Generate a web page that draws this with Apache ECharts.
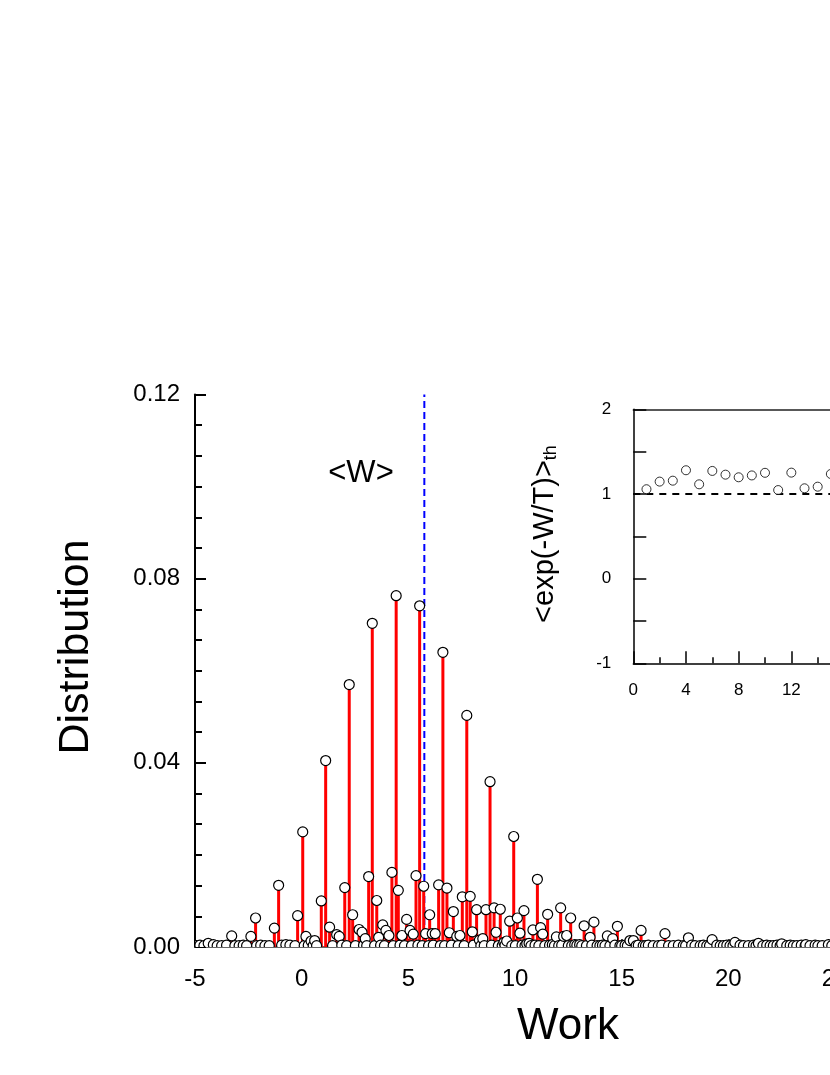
<!DOCTYPE html>
<html>
<head>
<meta charset="utf-8">
<script src="https://cdn.jsdelivr.net/npm/echarts@6/dist/echarts.min.js"></script>
<style>
  html, body { margin: 0; padding: 0; background: #fff; }
  #chart { width: 830px; height: 1075px; }
</style>
</head>
<body>
<div id="chart"></div>
<script>
// work values (x) and distribution (y) of the points with visible stems
const workValues = [
  -4.38, -3.28, -2.38, -2.16, -1.28, -1.08, -0.19, 0.05, 0.20, 0.44, 0.61, 0.92,
  1.125, 1.31, 1.64, 1.76, 2.02, 2.23, 2.39, 2.69, 2.83, 2.98, 3.14, 3.31,
  3.52, 3.61, 3.80, 3.95, 4.09, 4.23, 4.43, 4.53, 4.70, 4.92, 5.08, 5.23,
  5.36, 5.53, 5.72, 5.81, 6.00, 6.12, 6.26, 6.42, 6.62, 6.81, 6.92, 7.11,
  7.27, 7.42, 7.53, 7.74, 7.90, 8.00, 8.20, 8.33, 8.49, 8.64, 8.83, 9.02,
  9.11, 9.31, 9.48, 9.61, 9.75, 9.94, 10.11, 10.23, 10.42, 10.55, 10.66, 10.84,
  11.05, 11.20, 11.30, 11.53, 11.75, 11.94, 12.14, 12.28, 12.42, 12.61, 12.80, 13.03,
  13.24, 13.52, 13.70, 14.33, 14.58, 14.80, 15.39, 15.55, 15.91, 17.03, 18.13, 19.24,
  20.31, 21.41, 22.50, 23.63, 24.69
]
const distValues = [
  0.0008, 0.0024, 0.0023, 0.0063, 0.0041, 0.0134, 0.0068, 0.0250, 0.0023, 0.0013, 0.0014, 0.0100,
  0.0405, 0.0043, 0.0027, 0.0023, 0.0129, 0.0570, 0.0070, 0.0038, 0.0032, 0.0018, 0.0153, 0.0703,
  0.0101, 0.0021, 0.0048, 0.0036, 0.0025, 0.0162, 0.0763, 0.0123, 0.0025, 0.0060, 0.0036, 0.0028,
  0.0155, 0.0741, 0.0132, 0.0029, 0.0070, 0.0029, 0.0029, 0.0135, 0.0640, 0.0128, 0.0031, 0.0077,
  0.0023, 0.0025, 0.0109, 0.0503, 0.0110, 0.0033, 0.0081, 0.0015, 0.0018, 0.0081, 0.0359, 0.0085,
  0.0032, 0.0082, 0.0010, 0.0013, 0.0056, 0.0240, 0.0063, 0.0030, 0.0079, 0.0007, 0.0008, 0.0037,
  0.0147, 0.0042, 0.0028, 0.0071, 0.0005, 0.0022, 0.0085, 0.0023, 0.0025, 0.0063, 0.0005, 0.0005,
  0.0046, 0.0021, 0.0054, 0.0024, 0.0018, 0.0045, 0.0014, 0.0014, 0.0036, 0.0029, 0.0020, 0.0016,
  0.0010, 0.0008, 0.0007, 0.0005, 0.0005
]
// the row of almost-zero points along the x axis
const floorWork = [
  -4.92, -4.77, -4.58, -4.14, -3.96, -3.75, -3.52, -3.13, -2.93, -2.74, -2.58, -2.11,
  -1.92, -1.72, -1.52, -0.94, -0.74, -0.55, -0.31, 0.12, 0.31, 0.54, 0.70, 1.45,
  1.88, 2.11, 2.52, 2.90, 3.05, 3.42, 3.70, 3.88, 4.29, 4.61, 4.82, 5.15,
  5.45, 5.65, 5.95, 6.17, 6.50, 6.70, 7.02, 7.34, 7.62, 8.05, 8.40, 8.56,
  8.90, 9.22, 9.40, 9.53, 9.85, 10.02, 10.33, 10.47, 10.75, 10.94, 11.12, 11.40,
  11.62, 11.85, 12.05, 12.19, 12.50, 12.66, 12.90, 13.13, 13.35, 13.60, 13.85, 13.98,
  14.10, 14.22, 14.45, 14.68, 14.92, 15.00, 15.16, 15.27, 15.68, 15.78, 16.01, 16.12,
  16.25, 16.48, 16.72, 16.88, 17.20, 17.42, 17.66, 17.89, 18.00, 18.28, 18.44, 18.68,
  18.83, 18.99, 19.12, 19.46, 19.62, 19.77, 19.93, 20.08, 20.22, 20.55, 20.71, 20.94,
  21.18, 21.30, 21.62, 21.80, 21.96, 22.11, 22.28, 22.43, 22.74, 22.90, 23.05, 23.21,
  23.42, 23.60, 23.83, 24.07, 24.20, 24.40, 24.85
]
const floorDist = [
  0.0003, 0.0004, 0.0003, 0.0005, 0.0003, 0.0003, 0.0004, 0.0003, 0.0003, 0.0004, 0.0003, 0.0003,
  0.0004, 0.0003, 0.0003, 0.0004, 0.0005, 0.0004, 0.0003, 0.0003, 0.0004, 0.0003, 0.0003, 0.0003,
  0.0004, 0.0003, 0.0003, 0.0004, 0.0003, 0.0003, 0.0004, 0.0003, 0.0003, 0.0004, 0.0003, 0.0003,
  0.0004, 0.0003, 0.0003, 0.0004, 0.0003, 0.0003, 0.0004, 0.0003, 0.0003, 0.0004, 0.0003, 0.0003,
  0.0004, 0.0003, 0.0003, 0.0004, 0.0003, 0.0003, 0.0004, 0.0003, 0.0003, 0.0004, 0.0003, 0.0003,
  0.0004, 0.0003, 0.0003, 0.0004, 0.0003, 0.0003, 0.0004, 0.0003, 0.0003, 0.0004, 0.0003, 0.0003,
  0.0004, 0.0003, 0.0003, 0.0004, 0.0003, 0.0003, 0.0004, 0.0003, 0.0003, 0.0004, 0.0003, 0.0003,
  0.0004, 0.0003, 0.0003, 0.0004, 0.0003, 0.0003, 0.0004, 0.0003, 0.0003, 0.0004, 0.0003, 0.0003,
  0.0004, 0.0003, 0.0003, 0.0004, 0.0003, 0.0003, 0.0004, 0.0003, 0.0003, 0.0004, 0.0003, 0.0003,
  0.0004, 0.0003, 0.0003, 0.0004, 0.0003, 0.0003, 0.0004, 0.0003, 0.0003, 0.0004, 0.0003, 0.0003,
  0.0004, 0.0003, 0.0003, 0.0004, 0.0003, 0.0003, 0.0003
]
const meanWork = 5.75

// inset: thermal average of exp(-W/T) per time step
const timeSteps = [1, 2, 3, 4, 5, 6, 7, 8, 9, 10, 11, 12, 13, 14, 15]
const expAverage = [1.056, 1.146, 1.157, 1.28, 1.114, 1.272, 1.228, 1.197, 1.219, 1.25, 1.046, 1.252, 1.067, 1.086, 1.236]

const font = 'Liberation Sans, Arial, sans-serif'

const points = workValues.map((w, i) => [w, distValues[i]])
  .concat(floorWork.map((w, i) => [w, floorDist[i]]))
  .sort((a, b) => a[0] - b[0])

const chart = echarts.init(document.getElementById('chart'), null, { renderer: 'canvas' })

chart.setOption({
  animation: false,
  backgroundColor: '#fff',
  grid: [
    { left: 195, top: 394.5, width: 640, height: 552.5, outerBoundsMode: 'none' },
    { left: 633.3, top: 409.3, width: 263.4, height: 254, outerBoundsMode: 'none' }
  ],
  xAxis: [
    {
      gridIndex: 0, type: 'value', min: -5, max: 25, interval: 5,
      axisLine: { onZero: false, lineStyle: { color: '#333', width: 1.5 } },
      axisTick: { inside: true, length: 8, lineStyle: { color: '#000', width: 1.5 } },
      axisLabel: { fontFamily: font, fontSize: 24, color: '#000', margin: 20 },
      splitLine: { show: false }
    },
    {
      gridIndex: 1, type: 'value', min: 0, max: 20, interval: 4,
      axisLine: { onZero: false, lineStyle: { color: '#000', width: 1.5 } },
      axisTick: { inside: true, length: 12, lineStyle: { color: '#000', width: 1.5 } },
      minorTick: { show: true, splitNumber: 2, length: 6, lineStyle: { color: '#000', width: 1.5 } },
      axisLabel: { fontFamily: font, fontSize: 17, color: '#000', margin: 19 },
      splitLine: { show: false }
    },
    {
      gridIndex: 1, type: 'value', min: 0, max: 20, position: 'top',
      axisLine: { onZero: false, lineStyle: { color: '#222', width: 1.5 } },
      axisTick: { show: false }, axisLabel: { show: false }, splitLine: { show: false }
    }
  ],
  yAxis: [
    {
      gridIndex: 0, type: 'value', min: 0, max: 0.12, interval: 0.04,
      axisLine: { show: true, onZero: false, lineStyle: { color: '#000', width: 2 } },
      axisTick: { inside: true, length: 11, lineStyle: { color: '#000', width: 2 } },
      minorTick: { show: true, splitNumber: 6, length: 7, lineStyle: { color: '#000', width: 2 } },
      axisLabel: { fontFamily: font, fontSize: 24, color: '#000', margin: 15, formatter: v => v.toFixed(2) },
      splitLine: { show: false }
    },
    {
      gridIndex: 1, type: 'value', min: -1, max: 2, interval: 1,
      axisLine: { show: true, onZero: false, lineStyle: { color: '#000', width: 1.5 } },
      axisTick: { inside: true, length: 13, lineStyle: { color: '#000', width: 1.5 } },
      minorTick: { show: true, splitNumber: 2, length: 13, lineStyle: { color: '#000', width: 1.5 } },
      axisLabel: { fontFamily: font, fontSize: 17, color: '#000', margin: 22 },
      splitLine: { show: false }
    }
  ],
  series: [
    {
      // <W> marker
      type: 'line', xAxisIndex: 0, yAxisIndex: 0, z: 1,
      data: [[meanWork, 0], [meanWork, 0.12]],
      symbol: 'none',
      lineStyle: { color: '#0000ff', width: 2, type: [7, 4] }
    },
    {
      // stems
      type: 'custom', xAxisIndex: 0, yAxisIndex: 0, z: 2, clip: true,
      data: points,
      encode: { x: 0, y: 1 },
      renderItem: (params, api) => {
        const top = api.coord([api.value(0), api.value(1)])
        const base = api.coord([api.value(0), 0])
        return {
          type: 'line',
          shape: { x1: base[0], y1: base[1], x2: top[0], y2: top[1] },
          style: { stroke: '#ff0000', lineWidth: 3 }
        }
      }
    },
    {
      // open circles
      type: 'custom', xAxisIndex: 0, yAxisIndex: 0, z: 3, clip: true,
      data: points,
      encode: { x: 0, y: 1 },
      renderItem: (params, api) => {
        const c = api.coord([api.value(0), api.value(1)])
        return {
          type: 'circle',
          shape: { cx: c[0], cy: c[1], r: 5 },
          style: { fill: '#fff', stroke: '#000', lineWidth: 1.2 }
        }
      }
    },
    {
      type: 'line', xAxisIndex: 1, yAxisIndex: 1, z: 4,
      data: [[0, 1], [20, 1]],
      symbol: 'none',
      lineStyle: { color: '#000', width: 2, type: [7, 6] }
    },
    {
      type: 'scatter', xAxisIndex: 1, yAxisIndex: 1, z: 5,
      data: timeSteps.map((t, i) => [t, expAverage[i]]),
      symbol: 'circle', symbolSize: 9,
      itemStyle: { color: '#fff', borderColor: '#000', borderWidth: 1 }
    }
  ],
  graphic: [
    {
      type: 'text', x: 76, y: 647, rotation: Math.PI / 2,
      style: { text: 'Distribution', font: '43px ' + font, fill: '#000', align: 'center', verticalAlign: 'middle' }
    },
    {
      type: 'text', x: 568, y: 1027,
      style: { text: 'Work', font: '44px ' + font, fill: '#000', align: 'center', verticalAlign: 'middle' }
    },
    {
      type: 'text', x: 361, y: 473,
      style: { text: '<W>', font: '31px ' + font, fill: '#000', align: 'center', verticalAlign: 'middle' }
    },
    {
      type: 'text', x: 545, y: 534, rotation: Math.PI / 2,
      style: {
        text: '{a|<exp(-W/T)>}{b|th}',
        align: 'center', verticalAlign: 'middle',
        rich: {
          a: { fontFamily: font, fontSize: 29, fill: '#000', color: '#000' },
          b: { fontFamily: font, fontSize: 18, fill: '#000', color: '#000', verticalAlign: 'bottom', padding: [12, 0, 0, 0] }
        }
      }
    }
  ]
})
</script>
</body>
</html>
